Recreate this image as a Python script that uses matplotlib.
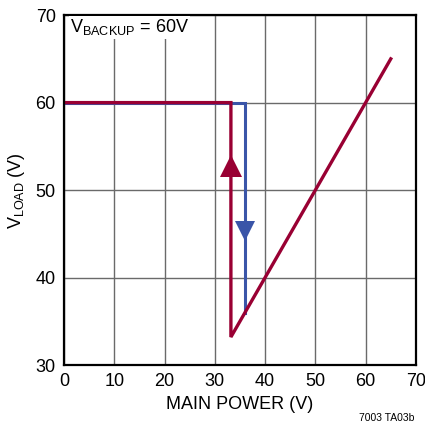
import matplotlib
matplotlib.use("Agg")
import matplotlib.pyplot as plt

plt.rcParams['font.family'] = ['Liberation Sans Narrow', 'Liberation Sans', 'DejaVu Sans']

# hysteresis paths (main power V, load V)
rise_x = [0, 33.2, 33.2, 65]
rise_y = [60, 60, 33.2, 65]
fall_x = [0, 36, 36]
fall_y = [60, 60, 36]
up_arrow = (33.2, 52.8)
down_arrow = (36, 45.3)

red = '#990033'
blue = '#3a55a8'

fig = plt.figure(figsize=(4.25, 4.32), dpi=100)
ax = fig.add_axes([0.1506, 0.155, 0.828, 0.810])

ax.plot(fall_x, fall_y, color=blue, lw=2.2, solid_joinstyle='miter')
ax.plot(rise_x, rise_y, color=red, lw=2.4, solid_joinstyle='miter')
ax.plot(*down_arrow, marker='v', color=blue, ms=15, mew=0)
ax.plot(*up_arrow, marker='^', color=red, ms=16, mew=0)

ax.set_xlim(0, 70)
ax.set_ylim(30, 70)
ax.set_xticks(range(0, 71, 10))
ax.set_yticks(range(30, 71, 10))
ax.grid(True, color='#6a6a6a', lw=1)
ax.set_axisbelow(True)
ax.tick_params(length=0, labelsize=13, pad=6)
for s in ax.spines.values():
    s.set_linewidth(1.6)

ax.set_xlabel('MAIN POWER (V)', fontsize=13, labelpad=4)
ax.set_ylabel(r'V$_{\mathregular{LOAD}}$ (V)', fontsize=13, labelpad=6)
ax.text(1.2, 68.6, r'V$_{\mathregular{BACKUP}}$ = 60V', fontsize=13, va='center', ha='left',
        bbox=dict(facecolor='white', edgecolor='none', pad=1))
fig.text(0.975, 0.02, '7003 TA03b', fontsize=7.5, ha='right', va='bottom')

fig.savefig('out.png', dpi=100)
